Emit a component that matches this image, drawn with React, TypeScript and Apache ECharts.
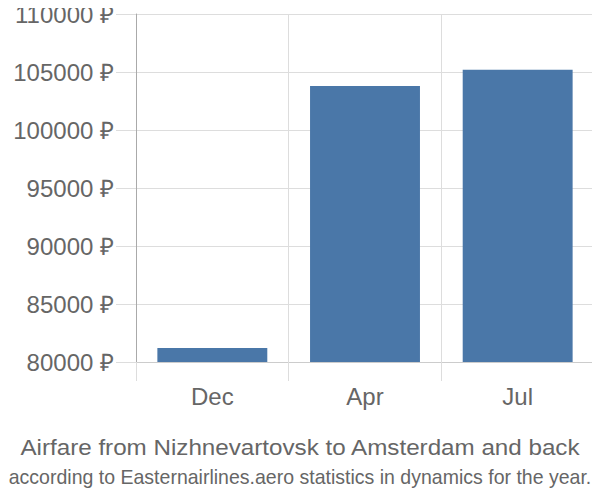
import React, { useEffect, useRef } from "react";
import * as echarts from "echarts";

const categories = ["Dec", "Apr", "Jul"];
const prices = [81200, 103800, 105200];
const yTicks = { min: 80000, max: 110000, interval: 5000 };
const titleText = "Airfare from Nizhnevartovsk to Amsterdam and back";
const subtitleText = "according to Easternairlines.aero statistics in dynamics for the year.";
const FONT = "'Liberation Sans', Arial, sans-serif";

export default function App() {
  const ref = useRef<HTMLDivElement>(null);
  useEffect(() => {
    if (!ref.current) return;
    const chart = echarts.init(ref.current, null, { renderer: "svg" });
    chart.setOption({
      animation: false,
      textStyle: { fontFamily: FONT },
      grid: { left: 136, right: 6, top: 14, bottom: 138 },
      xAxis: {
        type: "category",
        data: categories,
        axisLine: { show: true, lineStyle: { color: "#ccc", width: 1 } },
        axisTick: { show: true, length: 19, lineStyle: { color: "#ddd" } },
        splitLine: { show: true, lineStyle: { color: "#ddd" } },
        axisLabel: { fontSize: 24, color: "#666", margin: 22 },
      },
      yAxis: {
        type: "value",
        min: yTicks.min,
        max: yTicks.max,
        interval: yTicks.interval,
        axisLine: { show: true, lineStyle: { color: "#aaa", width: 1 } },
        axisTick: { show: true, length: 20, lineStyle: { color: "#ddd" } },
        splitLine: { show: true, lineStyle: { color: "#ddd" } },
        axisLabel: {
          fontSize: 24,
          color: "#666",
          margin: 22,
          formatter: (v: number) => `${v} ₽`,
        },
      },
      graphic: [
        {
          type: "line",
          shape: { x1: 136.5, y1: 362, x2: 136.5, y2: 381 },
          style: { stroke: "#aaa", lineWidth: 1 },
        },
        {
          type: "text",
          x: 300,
          y: 447,
          style: {
            text: titleText,
            fontSize: 22,
            fontFamily: FONT,
            fill: "#666",
            textAlign: "center",
            textVerticalAlign: "middle",
          },
          scaleX: 1.1,
        },
        {
          type: "text",
          x: 300,
          y: 477,
          style: {
            text: subtitleText,
            fontSize: 21,
            fontFamily: FONT,
            fill: "#666",
            textAlign: "center",
            textVerticalAlign: "middle",
          },
          scaleX: 0.93,
        },
      ],
      series: [
        {
          type: "bar",
          data: prices,
          barCategoryGap: "28%",
          itemStyle: { color: "#4a77a8" },
        },
      ],
    });
    return () => chart.dispose();
  }, []);
  return <div ref={ref} style={{ width: 600, height: 500, margin: -8 }} />;
}
